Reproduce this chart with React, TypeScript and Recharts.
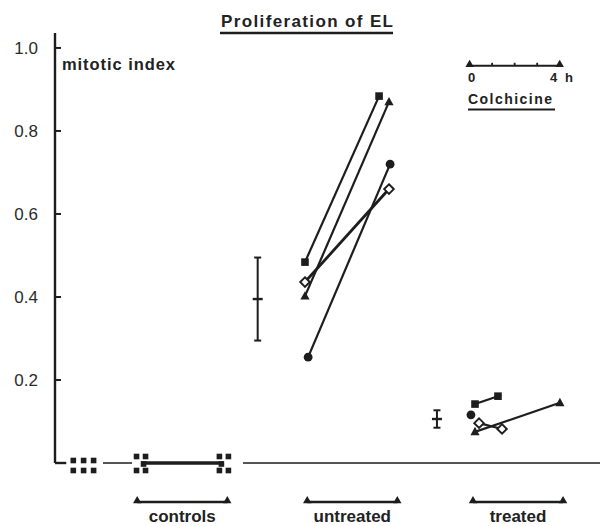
import {
  ComposedChart,
  ErrorBar,
  Line,
  ReferenceDot,
  ReferenceLine,
  Scatter,
  XAxis,
  YAxis,
} from 'recharts'

const INK = '#1d1d1d'
const FONT = '"Liberation Sans", Arial, Helvetica, sans-serif'

// hour axis: each group's 0 h sits at its origin, the brackets span 4 h
const GROUP_NAMES = ['controls', 'untreated', 'treated']
const GROUP_ORIGINS = [3.65, 11.2, 18.56]
const BRACKET_HOURS = 4

const Y_TICKS = [0.2, 0.4, 0.6, 0.8, 1.0]

// controls: every replicate at zero, stacked as small squares
const controlHours = [-2.38, 0.17, 3.85]
const controlReplicates = [6, 5, 5]

// untreated cultures (hours relative to group origin, mitotic index)
const untreatedSquareHours = [-0.1, 3.19]
const untreatedSquare = [0.484, 0.884]
const untreatedTriangleHours = [-0.1, 3.63]
const untreatedTriangle = [0.402, 0.87]
const untreatedCircleHours = [0.04, 3.68]
const untreatedCircle = [0.255, 0.72]
const untreatedDiamondHours = [-0.1, 3.63]
const untreatedDiamond = [0.436, 0.66]

// colchicine treated cultures
const treatedSquareHours = [0.09, 1.11]
const treatedSquare = [0.142, 0.161]
const treatedCircleHours = [-0.09]
const treatedCircle = [0.116]
const treatedDiamondHours = [0.27, 1.29]
const treatedDiamond = [0.096, 0.082]
const treatedTriangleHours = [0.09, 3.86]
const treatedTriangle = [0.075, 0.145]

// group mean ± SD (untreated, treated), placed left of each group
const meanHours = [-2.2, -1.6]
const meanIndex = [0.395, 0.106]
const meanSd = [0.1, 0.021]

// colchicine time scale drawn in the upper right
const SCALE_START = 18.41
const SCALE_LEVEL = 0.957
const SCALE_TICKS = [1, 2, 3]
const BRACKET_LEVEL = -0.094

const [cOrigin, uOrigin, tOrigin] = GROUP_ORIGINS

type Kind = 'square' | 'triangle' | 'circle' | 'diamond'

const pts = (origin: number, hours: number[], values: number[]) =>
  hours.map((h, i) => ({ x: origin + h, y: values[i] }))

const series: { kind: Kind; width: number; data: { x: number; y: number }[] }[] = [
  { kind: 'square', width: 2.2, data: pts(uOrigin, untreatedSquareHours, untreatedSquare) },
  { kind: 'triangle', width: 2.2, data: pts(uOrigin, untreatedTriangleHours, untreatedTriangle) },
  { kind: 'circle', width: 2.2, data: pts(uOrigin, untreatedCircleHours, untreatedCircle) },
  { kind: 'diamond', width: 2.8, data: pts(uOrigin, untreatedDiamondHours, untreatedDiamond) },
  { kind: 'square', width: 2.2, data: pts(tOrigin, treatedSquareHours, treatedSquare) },
  { kind: 'circle', width: 2.2, data: pts(tOrigin, treatedCircleHours, treatedCircle) },
  { kind: 'triangle', width: 2.2, data: pts(tOrigin, treatedTriangleHours, treatedTriangle) },
  { kind: 'diamond', width: 2.2, data: pts(tOrigin, treatedDiamondHours, treatedDiamond) },
]

const clusters = controlHours.map((h, i) => ({
  x: cOrigin + h,
  y: 0,
  n: controlReplicates[i],
  i,
}))

const means = meanHours.map((h, i) => ({
  x: [uOrigin, tOrigin][i] + h,
  y: meanIndex[i],
  sd: meanSd[i],
}))

function Marker({ cx, cy, kind }: { cx?: number; cy?: number; kind: Kind }) {
  if (cx == null || cy == null) return null
  switch (kind) {
    case 'square':
      return <rect x={cx - 3.8} y={cy - 3.8} width={7.6} height={7.6} fill={INK} />
    case 'triangle':
      return (
        <path
          d={`M${cx},${cy - 5}L${cx + 4.6},${cy + 3.4}L${cx - 4.6},${cy + 3.4}Z`}
          fill={INK}
        />
      )
    case 'circle':
      return <circle cx={cx} cy={cy} r={4.4} fill={INK} />
    default:
      return (
        <path
          d={`M${cx},${cy - 4.8}L${cx + 4.8},${cy}L${cx},${cy + 4.8}L${cx - 4.8},${cy}Z`}
          fill="#fff"
          stroke={INK}
          strokeWidth={1.9}
        />
      )
  }
}

// replicates at zero drawn as a block of small squares
function Cluster(props: any) {
  const { cx, cy, payload } = props
  const s = 5.6
  let cells: number[][]
  if (payload.n === 6) {
    cells = [-10.3, 0, 10].flatMap((dx) => [[dx, -2.5], [dx, 7.5]])
  } else {
    const mid = payload.i === 1 ? 2.5 : -2.5
    cells = [[-4.5, -6.5], [4.5, -6.5], [mid, 1], [-4.5, 7.5], [4.5, 7.5]]
  }
  return (
    <g>
      {cells.map(([dx, dy], k) => (
        <rect key={k} x={cx + dx - s / 2} y={cy + dy - s / 2} width={s} height={s} fill={INK} />
      ))}
    </g>
  )
}

const MeanMark = (props: any) => (
  <line
    x1={props.cx - 5}
    x2={props.cx + 5}
    y1={props.cy}
    y2={props.cy}
    stroke={INK}
    strokeWidth={2.4}
  />
)

const UpTriangle = (props: any) => (
  <path
    d={`M${props.cx},${props.cy - 6}L${props.cx + 4.2},${props.cy + 1.3}L${props.cx - 4.2},${props.cy + 1.3}Z`}
    fill={INK}
  />
)

const SmallTick = (props: any) => (
  <line x1={props.cx} x2={props.cx} y1={props.cy} y2={props.cy - 3} stroke={INK} strokeWidth={1.8} />
)

const YTick = (p: any) => (
  <g>
    <line x1={p.x} x2={p.x + 6} y1={p.y} y2={p.y} stroke={INK} strokeWidth={2} />
    <text
      x={p.x - 17}
      y={p.y}
      dy={6}
      textAnchor="end"
      fontSize={17}
      fill="#2b2b2b"
      fontFamily={FONT}
    >
      {Number(p.payload.value).toFixed(1)}
    </text>
  </g>
)

const XTick = (p: any) => (
  <text
    x={p.x}
    y={p.y + 59}
    textAnchor="middle"
    fontSize={17}
    fontWeight="bold"
    fill="#222"
    fontFamily={FONT}
  >
    {GROUP_NAMES[p.index]}
  </text>
)

export default function App() {
  return (
    <div style={{ position: 'absolute', left: 0, top: 0, width: 604, height: 526, background: '#fff' }}>
      <ComposedChart
        width={604}
        height={526}
        margin={{ top: 33, right: 4, bottom: 0, left: 0 }}
      >
        <XAxis
          type="number"
          dataKey="x"
          domain={[0, 24.2]}
          ticks={GROUP_ORIGINS.map((o) => o + BRACKET_HOURS / 2)}
          interval={0}
          height={63}
          axisLine={false}
          tickLine={false}
          tickSize={0}
          tickMargin={0}
          tick={<XTick />}
        />
        <YAxis
          type="number"
          dataKey="y"
          domain={[0, 1.036]}
          ticks={Y_TICKS}
          width={55}
          tickSize={0}
          tickMargin={0}
          tickLine={false}
          axisLine={{ stroke: INK, strokeWidth: 2.4 }}
          tick={<YTick />}
        />

        {/* zero line, broken around the control blocks */}
        <ReferenceLine segment={[{ x: 0, y: 0 }, { x: 0.5, y: 0 }]} stroke={INK} strokeWidth={2.4} ifOverflow="visible" />
        <ReferenceLine segment={[{ x: 2.13, y: 0 }, { x: 3.42, y: 0 }]} stroke={INK} strokeWidth={1.5} ifOverflow="visible" />
        <ReferenceLine segment={[{ x: 8.35, y: 0 }, { x: 24.2, y: 0 }]} stroke={INK} strokeWidth={1.5} ifOverflow="visible" />

        {/* 4 h brackets under each group */}
        {GROUP_ORIGINS.map((o) => (
          <ReferenceLine
            key={`b${o}`}
            segment={[{ x: o, y: BRACKET_LEVEL }, { x: o + BRACKET_HOURS, y: BRACKET_LEVEL }]}
            stroke={INK}
            strokeWidth={2.6}
            ifOverflow="visible"
          />
        ))}
        {GROUP_ORIGINS.flatMap((o) => [o, o + BRACKET_HOURS]).map((x) => (
          <ReferenceDot key={`t${x}`} x={x} y={BRACKET_LEVEL} r={3} shape={<UpTriangle />} ifOverflow="visible" />
        ))}

        {/* colchicine time scale */}
        <ReferenceLine
          segment={[{ x: SCALE_START, y: SCALE_LEVEL }, { x: SCALE_START + BRACKET_HOURS, y: SCALE_LEVEL }]}
          stroke={INK}
          strokeWidth={2}
          ifOverflow="visible"
        />
        {[0, BRACKET_HOURS].map((h) => (
          <ReferenceDot key={`s${h}`} x={SCALE_START + h} y={SCALE_LEVEL} r={3} shape={<UpTriangle />} ifOverflow="visible" />
        ))}
        {SCALE_TICKS.map((h) => (
          <ReferenceDot key={`k${h}`} x={SCALE_START + h} y={SCALE_LEVEL} r={1} shape={<SmallTick />} ifOverflow="visible" />
        ))}

        {/* controls stay at zero over the 4 h */}
        <Line
          data={clusters.slice(1)}
          dataKey="y"
          stroke={INK}
          strokeWidth={3.6}
          dot={false}
          isAnimationActive={false}
        />
        <Scatter data={clusters} dataKey="y" shape={<Cluster />} isAnimationActive={false} />

        <Scatter data={means} dataKey="y" shape={<MeanMark />} isAnimationActive={false}>
          <ErrorBar dataKey="sd" direction="y" width={3.5} stroke={INK} strokeWidth={2} />
        </Scatter>

        {series.map((s, i) => (
          <Line
            key={i}
            data={s.data}
            dataKey="y"
            type="linear"
            stroke={INK}
            strokeWidth={s.width}
            dot={(p: any) => <Marker key={p.index} cx={p.cx} cy={p.cy} kind={s.kind} />}
            activeDot={false}
            isAnimationActive={false}
          />
        ))}
      </ComposedChart>

      <svg
        width={604}
        height={526}
        style={{ position: 'absolute', left: 0, top: 0, pointerEvents: 'none' }}
        fontFamily={FONT}
        fontWeight="bold"
        fill="#222"
      >
        <text x={221} y={27} fontSize={17} textLength={172} lengthAdjust="spacing">
          Proliferation of EL
        </text>
        <line x1={220} x2={393} y1={33} y2={33} stroke={INK} strokeWidth={2.6} />
        <text x={62} y={70} fontSize={16.5} textLength={113} lengthAdjust="spacing">
          mitotic index
        </text>
        <text x={468} y={82} fontSize={13}>
          0
        </text>
        <text x={550} y={82} fontSize={13} textLength={23} lengthAdjust="spacing">
          4 h
        </text>
        <text x={468} y={104} fontSize={14} textLength={84} lengthAdjust="spacing">
          Colchicine
        </text>
        <line x1={468} x2={555} y1={109.5} y2={109.5} stroke={INK} strokeWidth={2} />
      </svg>
    </div>
  )
}
